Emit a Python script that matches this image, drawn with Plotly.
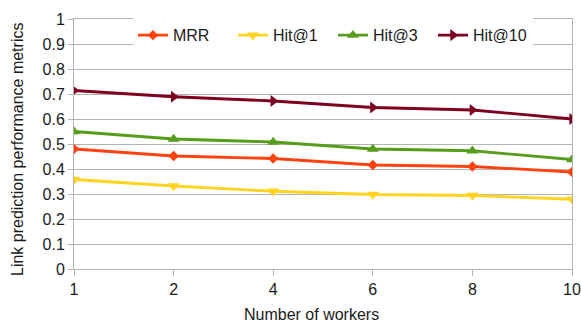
import plotly.graph_objects as go

workers = ["1", "2", "4", "6", "8", "10"]
mrr = [0.480, 0.452, 0.442, 0.416, 0.410, 0.388]
hit1 = [0.358, 0.332, 0.311, 0.298, 0.294, 0.279]
hit3 = [0.550, 0.520, 0.508, 0.480, 0.473, 0.438]
hit10 = [0.714, 0.689, 0.672, 0.646, 0.636, 0.600]
y_ticks = [0, 0.1, 0.2, 0.3, 0.4, 0.5, 0.6, 0.7, 0.8, 0.9, 1]
y_tick_text = ["0", "0.1", "0.2", "0.3", "0.4", "0.5", "0.6", "0.7", "0.8", "0.9", "1"]

series = [
    ("MRR", mrr, "#ff420e", "diamond", 8),
    ("Hit@1", hit1, "#ffd320", "triangle-down", 10.5),
    ("Hit@3", hit3, "#579d1c", "triangle-up", 10.5),
    ("Hit@10", hit10, "#7e0021", "triangle-right", 10.5),
]

fig = go.Figure()
for name, vals, color, sym, msize in series:
    fig.add_trace(go.Scatter(
        x=workers, y=vals, name=name, mode="lines+markers",
        line=dict(color=color, width=2.8),
        marker=dict(symbol=sym, size=msize, color=color),
    ))

grid = "#b3b3b3"
W, H = 581, 324
ML, MR, MT, MB = 74, 9, 19, 55
fig.update_layout(
    width=W, height=H,
    margin=dict(l=ML, r=MR, t=MT, b=MB),
    paper_bgcolor="white", plot_bgcolor="white",
    font=dict(family="Liberation Sans, Arial, sans-serif", size=16, color="#1a1a1a"),
    showlegend=True,
    legend=dict(
        orientation="h", x=0.52, xanchor="center", y=0.935, yanchor="middle",
        bgcolor="rgba(255,255,255,1)", font=dict(size=16),
        itemwidth=30, tracegroupgap=0, entrywidth=55, entrywidthmode="pixels",
    ),
    xaxis=dict(
        type="category", range=[0, 5], automargin=False,
        showgrid=False, showline=True, linecolor=grid, linewidth=1, mirror=True,
        ticks="outside", ticklen=6, tickcolor=grid, tickfont=dict(size=16),
        zeroline=False,
    ),
    yaxis=dict(
        range=[0, 1], tickvals=y_ticks, ticktext=y_tick_text, automargin=False,
        showgrid=True, gridcolor=grid, gridwidth=1,
        showline=True, linecolor=grid, linewidth=1, mirror=True,
        ticks="outside", ticklen=5, tickcolor=grid, tickfont=dict(size=16),
        zeroline=False,
    ),
)

# Axis titles placed in paper coordinates
plot_w = W - ML - MR
plot_h = H - MT - MB
fig.add_annotation(
    text="Number of workers", xref="paper", yref="paper",
    x=(311 - ML) / plot_w, y=-(314 - (H - MB)) / plot_h,
    xanchor="center", yanchor="middle", showarrow=False, font=dict(size=16),
)
fig.add_annotation(
    text="Link prediction performance metrics", xref="paper", yref="paper",
    x=-(ML - 17) / plot_w, y=((H - MB) - 150) / plot_h, textangle=-90,
    xanchor="center", yanchor="middle", showarrow=False, font=dict(size=16),
)

fig.write_html("out.html")
